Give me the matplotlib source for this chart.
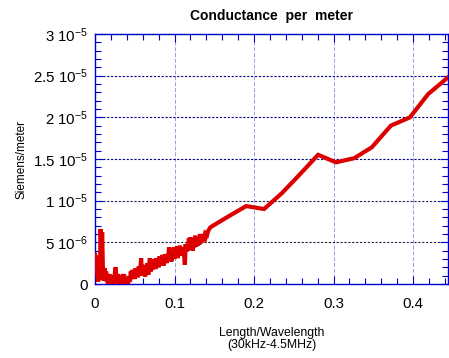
import numpy as np
import matplotlib.pyplot as plt
from matplotlib.ticker import MultipleLocator, FixedLocator

plt.rcParams['font.family'] = ['Liberation Sans', 'DejaVu Sans']
plt.rcParams['mathtext.default'] = 'regular'

# low-frequency part, sampled every 0.001 (noisy), in 1e-6 S/m
x_baixo = np.linspace(0, 0.142, 143)
g_baixo = [3.5, 2.6, 3.4, 1.0, 0.3, 1.2, 0.5, 6.6, 4.0, 6.2,
           1.5, 0.4, 1.9, 0.6, 1.5, 0.2, 1.0, 0.0, 1.2, 0.3,
           0.0, 1.0, 0.2, 0.8, 0.0, 1.4, 2.0, 0.3, 1.2, 0.1,
           0.9, 0.0, 1.1, 0.4, 0.8, 0.1, 1.2, 0.0, 0.6, 0.0,
           0.3, 0.0, 0.2, 0.9, 0.3, 1.5, 0.6, 1.7, 0.8, 1.3,
           0.6, 1.9, 1.0, 1.7, 0.8, 2.1, 1.1, 1.8, 3.1, 1.0,
           2.0, 1.2, 2.3, 0.9, 1.9, 1.4, 2.5, 1.1, 2.2, 3.1,
           1.5, 2.7, 1.7, 3.0, 2.0, 2.6, 1.8, 3.1, 2.2, 2.9,
           2.0, 3.3, 2.3, 3.0, 2.4, 3.5, 2.2, 3.2, 2.6, 3.6,
           2.5, 3.4, 2.8, 4.4, 2.9, 3.8, 2.7, 3.9, 3.2, 4.4,
           3.0, 4.1, 3.3, 4.5, 3.1, 4.2, 3.6, 4.6, 3.4, 4.3,
           3.7, 4.4, 3.5, 2.3, 4.8, 3.9, 4.6, 4.0, 5.5, 4.1,
           5.6, 4.3, 5.2, 4.0, 5.0, 4.4, 5.8, 4.5, 5.3, 4.6,
           5.5, 4.7, 6.0, 4.9, 5.6, 5.0, 6.0, 5.3, 5.8, 5.6,
           6.0, 5.9, 6.3]

# higher frequencies, coarse sampling
x_alto = [0.145, 0.152, 0.164, 0.19, 0.2126, 0.235, 0.258, 0.2805,
          0.303, 0.326, 0.348, 0.372, 0.396, 0.419, 0.444, 0.45]
g_alto = [6.8, 7.2, 7.9, 9.35, 9.0, 10.9, 13.2, 15.5,
          14.6, 15.1, 16.4, 19.0, 20.0, 22.8, 24.8, 25.3]

x = np.concatenate([x_baixo, x_alto])
g = np.concatenate([g_baixo, g_alto]) * 1e-6

y_ticks = [0, 5e-6, 1e-5, 1.5e-5, 2e-5, 2.5e-5, 3e-5]
y_rotulos = ['0', r'5 $10^{-6}$', r'1 $10^{-5}$', r'1.5 $10^{-5}$',
             r'2 $10^{-5}$', r'2.5 $10^{-5}$', r'3 $10^{-5}$']

azul = '#0000cc'

fig = plt.figure(figsize=(4.49, 3.58), dpi=100)
ax = fig.add_axes([0.2116, 0.2067, 0.7864, 0.6983])

# grid
for xv in [0.1, 0.2, 0.3, 0.4]:
    ax.axvline(xv, color='#9999ee', lw=0.7, ls=(0, (4, 2)), zorder=1)
for yv in y_ticks[1:-1]:
    cor = '#000088' if yv >= 1.5e-5 else '#222244'
    ax.axhline(yv, color=cor, lw=0.8, ls=(0, (2, 1.5)), zorder=1)

ax.plot(x, g, color='#dd0000', lw=3, zorder=3, solid_joinstyle='miter')

ax.set_xlim(0, 0.444)
ax.set_ylim(0, 3e-5)
ax.xaxis.set_major_locator(FixedLocator([0, 0.1, 0.2, 0.3, 0.4]))
ax.xaxis.set_minor_locator(MultipleLocator(0.02))
ax.set_xticklabels(['0', '0.1', '0.2', '0.3', '0.4'])
ax.yaxis.set_major_locator(FixedLocator(y_ticks))
ax.yaxis.set_minor_locator(MultipleLocator(1e-6))
ax.set_yticklabels(y_rotulos)

for s in ax.spines.values():
    s.set_color(azul)
    s.set_linewidth(1.0)
ax.tick_params(which='both', direction='in', top=True, right=True,
               color=azul, labelsize=10.8)
ax.tick_params(which='major', length=6, width=0.8)
ax.tick_params(axis='x', which='major', pad=9)
ax.tick_params(axis='y', which='major', pad=5)
ax.tick_params(which='minor', length=4, width=0.8)

ax.set_title('Conductance  per  meter', fontsize=10, fontweight='bold', pad=10)
ax.set_ylabel('Siemens/meter', fontsize=8.5)
ax.set_xlabel('Length/Wavelength\n(30kHz-4.5MHz)', fontsize=8.8, labelpad=12,
              linespacing=1.0)
ax.yaxis.set_label_coords(-0.19, 0.5)

fig.savefig('out.png', dpi=100)
